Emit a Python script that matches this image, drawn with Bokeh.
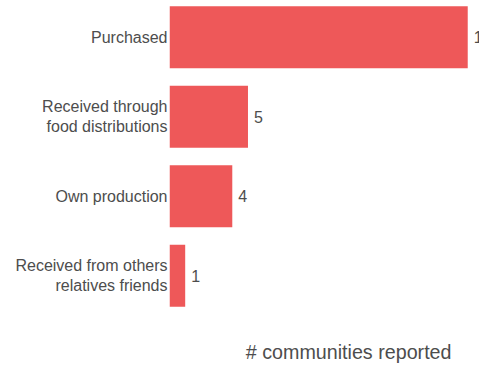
from bokeh.plotting import figure
from bokeh.models import FactorRange, ColumnDataSource, Title
from bokeh.embed import file_html
from bokeh.resources import INLINE

categories = ["Purchased", "Received through\nfood distributions", "Own production",
              "Received from others\nrelatives friends"]
counts = [19, 5, 4, 1]
value_labels = [str(c) for c in counts]

BAR = "#ee5859"
TXT = "#4d4d4d"
FONT = "Liberation Sans"

src = ColumnDataSource(dict(cat=categories, n=counts, lab=value_labels))

p = figure(frame_width=310, frame_height=312,
           y_range=FactorRange(factors=list(reversed(categories)),
                               range_padding=-0.0375, range_padding_units="absolute"),
           x_range=(0, 19.75),
           output_backend="svg", toolbar_location=None,
           min_border_left=169, min_border_right=0, min_border_top=0, min_border_bottom=0)

p.hbar(y="cat", right="n", left=0, height=0.78, source=src, fill_color=BAR, line_color=None)
p.text(x="n", y="cat", text="lab", source=src, x_offset=6, text_baseline="middle",
       text_align="left", text_font_size="16px", text_color=TXT, text_font={"value": FONT})

p.xaxis.visible = False
p.yaxis.axis_line_color = None
p.yaxis.major_tick_line_color = None
p.yaxis.minor_tick_line_color = None
p.yaxis.major_tick_out = 0
p.yaxis.major_label_standoff = 2
p.yaxis.major_label_text_font_size = "16px"
p.yaxis.major_label_text_color = TXT
p.yaxis.major_label_text_font = FONT
p.xgrid.grid_line_color = None
p.ygrid.grid_line_color = None
p.outline_line_color = None

p.add_layout(Title(text="# communities reported", align="right", offset=28,
                   text_font_size="19.7px", text_font=FONT, text_color=TXT,
                   text_font_style="normal", standoff=53), "below")

open("out.html", "w").write(file_html(p, INLINE))
